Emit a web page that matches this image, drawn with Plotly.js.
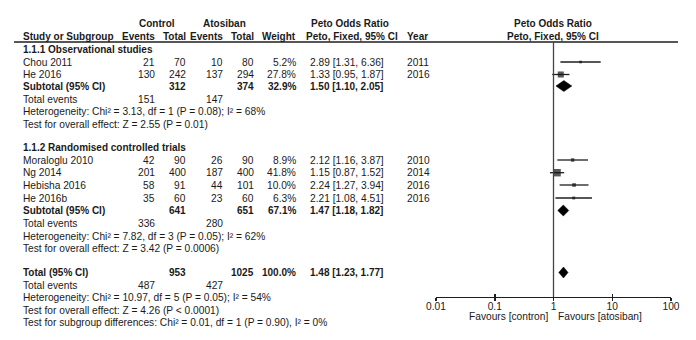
<!DOCTYPE html>
<html>
<head>
<meta charset="utf-8">
<script src="https://cdn.plot.ly/plotly-3.0.1.min.js"></script>
<style>html,body{margin:0;padding:0;background:#fff;}#chart{width:696px;height:340px;}</style>
</head>
<body>
<div id="chart"></div>
<script>
// ---------- DATA ----------
const studies     = ['Chou 2011','He 2016','Moraloglu 2010','Ng 2014','Hebisha 2016','He 2016b'];
const studyGroup  = [0,0,1,1,1,1];
const ctrlEvents  = [21,130,42,201,58,35];
const ctrlTotal   = [70,242,90,400,91,60];
const atoEvents   = [10,137,26,187,44,23];
const atoTotal    = [80,294,90,400,101,60];
const weights     = [5.2,27.8,8.9,41.8,10.0,6.3];
const orValues    = [2.89,1.33,2.12,1.15,2.24,2.21];
const ciLow       = [1.31,0.95,1.16,0.87,1.27,1.08];
const ciHigh      = [6.36,1.87,3.87,1.52,3.94,4.51];
const years       = [2011,2016,2010,2014,2016,2016];

const groupNames      = ['1.1.1 Observational studies','1.1.2 Randomised controlled trials'];
const groupCtrlTotal  = [312,641];
const groupAtoTotal   = [374,651];
const groupWeight     = [32.9,67.1];
const groupOr         = [1.50,1.47];
const groupLow        = [1.10,1.18];
const groupHigh       = [2.05,1.82];
const groupCtrlEvents = [151,336];
const groupAtoEvents  = [147,280];
const groupHet        = ['Heterogeneity: Chi\u00b2 = 3.13, df = 1 (P = 0.08); I\u00b2 = 68%',
                         'Heterogeneity: Chi\u00b2 = 7.82, df = 3 (P = 0.05); I\u00b2 = 62%'];
const groupTest       = ['Test for overall effect: Z = 2.55 (P = 0.01)',
                         'Test for overall effect: Z = 3.42 (P = 0.0006)'];

const totalCtrlTotal  = 953;
const totalAtoTotal   = 1025;
const totalWeight     = 100.0;
const totalOr         = 1.48;
const totalLow        = 1.23;
const totalHigh       = 1.77;
const totalCtrlEvents = 487;
const totalAtoEvents  = 427;
const totalHet        = 'Heterogeneity: Chi\u00b2 = 10.97, df = 5 (P = 0.05); I\u00b2 = 54%';
const totalTest       = 'Test for overall effect: Z = 4.26 (P < 0.0001)';
const subgroupTest    = 'Test for subgroup differences: Chi\u00b2 = 0.01, df = 1 (P = 0.90), I\u00b2 = 0%';

const tickValues = [0.01,0.1,1,10,100];
const tickLabels = ['0.01','0.1','1','10','100'];
const favourLeft  = 'Favours [contron]';
const favourRight = 'Favours [atosiban]';

// ---------- LAYOUT (pixel rows / columns) ----------
const W = 696, H = 340;
const rowY = {
  head1: 23, head2: 36, rule: 42,
  groups: [
    {title: 49.5, studies: [62, 74.5], sub: 86, ev: 99.5, het: 111.5, test: 124.5},
    {title: 147, studies: [160, 172.7, 185, 198], sub: 210.5, ev: 223.5, het: 236, test: 248.5}
  ],
  total: 272.5, totEv: 285, totHet: 297.5, totTest: 310, subTest: 322.5,
  axis: 296.5, favours: 316.5
};
const col = {study: 21, cEv: 157, cTot: 188, aEv: 225, aTot: 256, wt: 298, peto: 308, petoHdr: 304, year: 405,
             ctrlHead: 157, atoHead: 224, petoHead: 350, plotHead: 553};
const FONT = 'Liberation Sans, Arial, sans-serif';
const FS = 10.2;
const FSB = 10;
const TXT = '#1a1a1a';

const annotations = [];
function txt(x, y, s, anchor, bold) {
  annotations.push({
    xref: 'paper', yref: 'y', x: x / W, y: y,
    text: bold ? '<b>' + s + '</b>' : String(s),
    xanchor: anchor || 'left', yanchor: 'middle', showarrow: false,
    font: {family: FONT, size: bold ? FSB : FS, color: TXT}
  });
}
const fmt = v => v.toFixed(2);
const ci = (o, l, h) => fmt(o) + ' [' + fmt(l) + ', ' + fmt(h) + ']';

// headers
txt(col.ctrlHead, rowY.head1, 'Control', 'center', true);
txt(col.atoHead, rowY.head1, 'Atosiban', 'center', true);
txt(col.petoHead, rowY.head1, 'Peto Odds Ratio', 'center', true);
txt(col.plotHead, rowY.head1, 'Peto Odds Ratio', 'center', true);
txt(col.study, rowY.head2, 'Study or Subgroup', 'left', true);
txt(col.cEv, rowY.head2, 'Events', 'right', true);
txt(col.cTot, rowY.head2, 'Total', 'right', true);
txt(col.aEv, rowY.head2, 'Events', 'right', true);
txt(col.aTot, rowY.head2, 'Total', 'right', true);
txt(col.wt, rowY.head2, 'Weight', 'right', true);
txt(col.petoHdr, rowY.head2, 'Peto, Fixed, 95% CI', 'left', true);
txt(col.year, rowY.head2, 'Year', 'left', true);
txt(col.plotHead, rowY.head2, 'Peto, Fixed, 95% CI', 'center', true);

// study rows
const studyY = [];
const counters = [0, 0];
studies.forEach((s, i) => {
  const g = studyGroup[i];
  const y = rowY.groups[g].studies[counters[g]++];
  studyY.push(y);
  txt(col.study, y, s, 'left');
  txt(col.cEv, y, ctrlEvents[i], 'right');
  txt(col.cTot, y, ctrlTotal[i], 'right');
  txt(col.aEv, y, atoEvents[i], 'right');
  txt(col.aTot, y, atoTotal[i], 'right');
  txt(col.wt, y, weights[i].toFixed(1) + '%', 'right');
  txt(col.peto, y, ci(orValues[i], ciLow[i], ciHigh[i]), 'left');
  txt(col.year, y, years[i], 'left');
});

// group rows
groupNames.forEach((name, g) => {
  const r = rowY.groups[g];
  txt(col.study, r.title, name, 'left', true);
  txt(col.study, r.sub, 'Subtotal (95% CI)', 'left', true);
  txt(col.cTot, r.sub, groupCtrlTotal[g], 'right', true);
  txt(col.aTot, r.sub, groupAtoTotal[g], 'right', true);
  txt(col.wt, r.sub, groupWeight[g].toFixed(1) + '%', 'right', true);
  txt(col.peto, r.sub, ci(groupOr[g], groupLow[g], groupHigh[g]), 'left', true);
  txt(col.study, r.ev, 'Total events', 'left');
  txt(col.cEv, r.ev, groupCtrlEvents[g], 'right');
  txt(col.aEv, r.ev, groupAtoEvents[g], 'right');
  txt(col.study, r.het, groupHet[g], 'left');
  txt(col.study, r.test, groupTest[g], 'left');
});

// total rows
txt(col.study, rowY.total, 'Total (95% CI)', 'left', true);
txt(col.cTot, rowY.total, totalCtrlTotal, 'right', true);
txt(col.aTot, rowY.total, totalAtoTotal, 'right', true);
txt(col.wt, rowY.total, totalWeight.toFixed(1) + '%', 'right', true);
txt(col.peto, rowY.total, ci(totalOr, totalLow, totalHigh), 'left', true);
txt(col.study, rowY.totEv, 'Total events', 'left');
txt(col.cEv, rowY.totEv, totalCtrlEvents, 'right');
txt(col.aEv, rowY.totEv, totalAtoEvents, 'right');
txt(col.study, rowY.totHet, totalHet, 'left');
txt(col.study, rowY.totTest, totalTest, 'left');
txt(col.study, rowY.subTest, subgroupTest, 'left');

// favours labels (annotation x on a log axis is given as log10 of the value: log10(1) = 0)
annotations.push({xref: 'x', yref: 'y', x: Math.log10(1), y: rowY.favours, text: favourLeft, xanchor: 'right', yanchor: 'middle',
  xshift: -4, showarrow: false, font: {family: FONT, size: FS, color: TXT}});
annotations.push({xref: 'x', yref: 'y', x: Math.log10(1), y: rowY.favours, text: favourRight, xanchor: 'left', yanchor: 'middle',
  xshift: 2, showarrow: false, font: {family: FONT, size: FS, color: TXT}});

// ---------- TRACES ----------
const INK = '#1e1e1e';
const traces = [];
traces.push({
  type: 'scatter', mode: 'markers', x: orValues, y: studyY,
  marker: {symbol: 'square', color: '#111', size: weights.map(w => 1.15 * Math.sqrt(w)), line: {width: 0}},
  error_x: {type: 'data', symmetric: false,
            array: orValues.map((o, i) => ciHigh[i] - o),
            arrayminus: orValues.map((o, i) => o - ciLow[i]),
            width: 0, thickness: 1.3, color: INK},
  hoverinfo: 'skip', showlegend: false
});
function diamond(o, l, h, y) {
  const dh = 5.5;
  traces.push({type: 'scatter', mode: 'lines', x: [l, o, h, o, l], y: [y, y - dh, y, y + dh, y],
    fill: 'toself', fillcolor: '#000', line: {width: 0.5, color: '#000'}, hoverinfo: 'skip', showlegend: false});
}
groupNames.forEach((n, g) => diamond(groupOr[g], groupLow[g], groupHigh[g], rowY.groups[g].sub));
diamond(totalOr, totalLow, totalHigh, rowY.total);
// helper trace for the second (outer tick) axis
traces.push({type: 'scatter', mode: 'markers', x: [1], y: [-10], xaxis: 'x2', yaxis: 'y',
  marker: {opacity: 0}, hoverinfo: 'skip', showlegend: false});

const axisPos = 1 - rowY.axis / H;
const layout = {
  width: W, height: H, margin: {l: 0, r: 0, t: 0, b: 0},
  paper_bgcolor: '#fff', plot_bgcolor: 'rgba(0,0,0,0)',
  showlegend: false,
  xaxis: {type: 'log', range: [-2, 2], domain: [436 / W, 671 / W], anchor: 'free', position: axisPos,
    showgrid: false, zeroline: false, showline: true, linecolor: INK, linewidth: 1.5,
    ticks: 'inside', ticklen: 3, tickwidth: 1.5, tickcolor: INK,
    tickvals: tickValues, ticktext: tickLabels,
    tickfont: {family: FONT, size: FS, color: TXT}, fixedrange: true},
  xaxis2: {type: 'log', range: [-2, 2], domain: [436 / W, 671 / W], anchor: 'free', position: axisPos,
    overlaying: 'x', matches: 'x', showgrid: false, zeroline: false, showline: false,
    ticks: 'outside', ticklen: 3, tickwidth: 1.5, tickcolor: INK, tickvals: tickValues, showticklabels: false},
  yaxis: {range: [H, 0], domain: [0, 1], visible: false, fixedrange: true},
  shapes: [
    {type: 'line', xref: 'paper', yref: 'y', x0: 14 / W, x1: 678 / W, y0: rowY.rule, y1: rowY.rule,
     line: {color: INK, width: 1.5}},
    {type: 'line', xref: 'x', yref: 'y', x0: 1, x1: 1, y0: rowY.rule, y1: rowY.axis,
     line: {color: '#444', width: 1.3}}
  ],
  annotations: annotations
};
Plotly.newPlot('chart', traces, layout, {staticPlot: true, displayModeBar: false});
</script>
</body>
</html>
